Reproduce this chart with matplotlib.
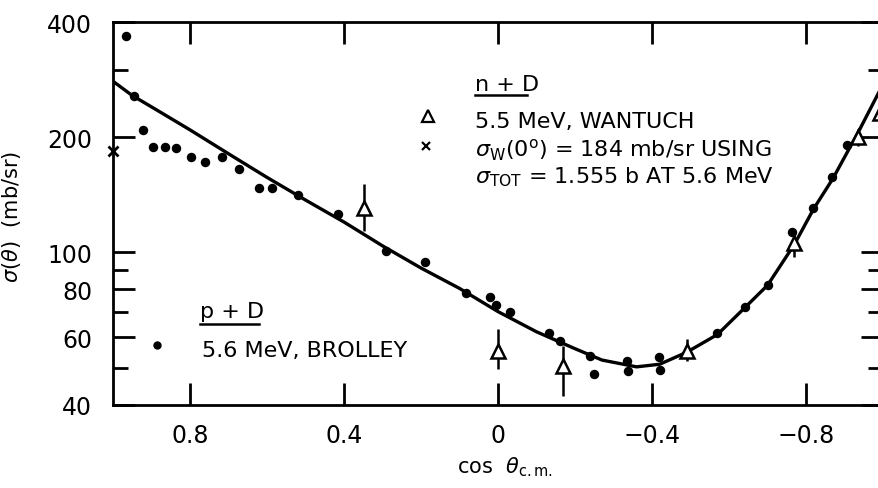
import matplotlib
matplotlib.use("Agg")
import matplotlib.pyplot as plt
from matplotlib.ticker import FixedLocator, FixedFormatter, NullFormatter

# p + D, 5.6 MeV (Brolley)
pd_cos = [0.966, 0.946, 0.921, 0.897, 0.865, 0.836, 0.798, 0.761, 0.717, 0.674,
          0.622, 0.586, 0.519, 0.416, 0.292, 0.190, 0.082, 0.021, 0.004, -0.032,
          -0.132, -0.162, -0.240, -0.250, -0.335, -0.337, -0.419, -0.422, -0.569,
          -0.642, -0.702, -0.763, -0.819, -0.867, -0.907]
pd_sig = [367, 257, 209, 188.5, 189, 187.5, 177.5, 172, 177, 165,
          147, 147, 141, 126, 100.6, 94.2, 78.2, 76.6, 73, 69.7,
          61.6, 58.6, 53.7, 48.1, 52.1, 49.0, 53.2, 49.2, 61.6,
          71.8, 82.2, 112.8, 130.6, 157, 190.8]

# n + D, 5.5 MeV (Wantuch), with error bars
nd_cos = [0.349, 0.0, -0.17, -0.49, -0.77, -0.935, -0.992]
nd_sig = [130.6, 55.2, 50.4, 55.2, 105.5, 200, 232]
nd_lo = [113.7, 49.6, 42.1, 52.0, 97.3, 190, 222]
nd_hi = [151, 62.9, 57.0, 59.4, 110.4, 210, 242]

# normalisation point at 0 degrees
w0_cos = [1.0]
w0_sig = [184]

# smooth fit curve
fit_cos = [1.0, 0.95, 0.9, 0.8, 0.7, 0.6, 0.5, 0.4, 0.3, 0.2, 0.1, 0.0, -0.1,
           -0.2, -0.27, -0.36, -0.42, -0.49, -0.57, -0.64, -0.70, -0.77, -0.82,
           -0.87, -0.94, -1.0]
fit_sig = [280, 257, 240, 209, 181, 157, 137, 120, 104, 91, 80.5, 70, 62,
           56, 52.3, 50.2, 51, 54.8, 61, 71.5, 82, 105, 130,
           156, 210, 275]

x_ticks = [0.8, 0.4, 0.0, -0.4, -0.8]
x_labels = ["0.8", "0.4", "0", "\u22120.4", "\u22120.8"]
y_major = [40, 60, 80, 100, 200, 400]
y_minor = [50, 70, 90, 300]

plt.rcParams["font.family"] = ["DejaVu Sans"]
plt.rcParams["mathtext.fontset"] = "dejavusans"

fig = plt.figure(figsize=(8.79, 4.89), dpi=100)
ax = fig.add_axes([113 / 879, 83.4 / 489, 770 / 879, 382.6 / 489])

ax.plot(fit_cos, fit_sig, color="black", lw=2.4, zorder=2)
ax.plot(pd_cos, pd_sig, "o", color="black", ms=5.8, zorder=3)

yerr = [[s - lo for s, lo in zip(nd_sig, nd_lo)],
        [hi - s for s, hi in zip(nd_sig, nd_hi)]]
ax.errorbar(nd_cos, nd_sig, yerr=yerr, fmt="^", ms=10, mfc="white",
            mec="black", mew=1.8, ecolor="black", elinewidth=1.8, capsize=0,
            zorder=4)
ax.plot(w0_cos, w0_sig, "x", color="black", ms=7, mew=2, clip_on=False, zorder=5)

ax.set_yscale("log")
ax.set_xlim(1.0, -1.0)
ax.set_ylim(40, 400)

ax.xaxis.set_major_locator(FixedLocator(x_ticks))
ax.xaxis.set_major_formatter(FixedFormatter(x_labels))
ax.yaxis.set_major_locator(FixedLocator(y_major))
ax.yaxis.set_major_formatter(FixedFormatter([str(v) for v in y_major]))
ax.yaxis.set_minor_locator(FixedLocator(y_minor))
ax.yaxis.set_minor_formatter(NullFormatter())

ax.tick_params(axis="both", which="major", direction="in", length=16, width=2,
               top=True, right=True, labelsize=17)
ax.tick_params(axis="y", which="minor", direction="in", length=11, width=2,
               left=True, right=True)
ax.tick_params(axis="x", pad=13)
ax.tick_params(axis="y", pad=15)
for sp in ax.spines.values():
    sp.set_linewidth(2)

ax.set_ylabel(r"$\sigma(\theta)$  (mb/sr)", fontsize=15)
ax.yaxis.set_label_coords(-0.117, 0.493)
ax.set_xlabel(r"cos  $\theta_{\rm c.m.}$", fontsize=15)
ax.xaxis.set_label_coords(0.509, -0.13)


def underlined(x, y, s, x1, dy):
    ax.text(x, y, s, transform=ax.transAxes, fontsize=16, va="baseline")
    ax.plot([x, x1], [y - dy, y - dy], transform=ax.transAxes,
            color="black", lw=1.8, clip_on=False)


# n + D legend block
underlined(0.470, 0.822, "n + D", 0.538, 0.012)
ax.plot([0.409], [0.754], "^", transform=ax.transAxes, ms=9, mfc="white",
        mec="black", mew=1.6)
ax.text(0.470, 0.725, "5.5 MeV, WANTUCH", transform=ax.transAxes,
        fontsize=16, va="baseline")
ax.plot([0.406], [0.676], "x", transform=ax.transAxes, color="black", ms=6, mew=1.6)
ax.text(0.470, 0.65, r"$\sigma_{\rm W}$(0$^{\rm o}$) = 184 mb/sr USING",
        transform=ax.transAxes, fontsize=16, va="baseline")
ax.text(0.470, 0.582, r"$\sigma_{\rm TOT}$ = 1.555 b AT 5.6 MeV",
        transform=ax.transAxes, fontsize=16, va="baseline")

# p + D legend block
underlined(0.113, 0.228, "p + D", 0.19, 0.017)
ax.plot([0.057], [0.156], "o", transform=ax.transAxes, color="black", ms=5)
ax.text(0.1156, 0.128, "5.6 MeV, BROLLEY", transform=ax.transAxes,
        fontsize=16, va="baseline")

fig.savefig("out.png", dpi=100)
